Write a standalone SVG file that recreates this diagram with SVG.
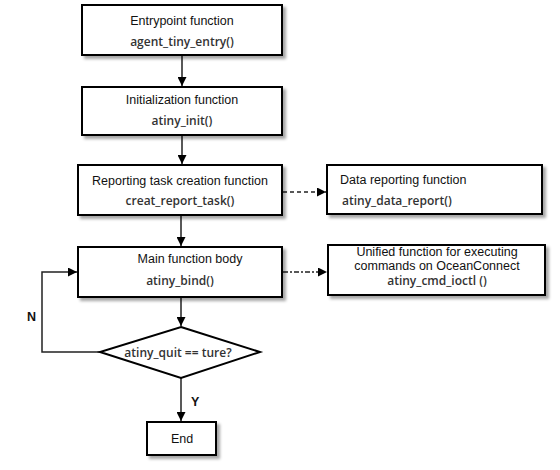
<svg xmlns="http://www.w3.org/2000/svg" width="560" height="470" viewBox="0 0 560 470">
<defs>
<filter id="sh" x="-10%" y="-10%" width="130%" height="140%">
<feDropShadow dx="3" dy="3" stdDeviation="1.5" flood-color="#000" flood-opacity="0.35"/>
</filter>
<marker id="ah" viewBox="0 0 10 10" refX="10" refY="5" markerWidth="9" markerHeight="9" markerUnits="userSpaceOnUse" orient="auto">
<path d="M0,0 L10,5 L0,10 z" fill="#000"/>
</marker>
</defs>
<style>
.box{fill:#fff;stroke:#000;stroke-width:2;filter:url(#sh)}
.t1{font-family:"Liberation Sans",Arial,sans-serif;font-size:12.5px;fill:#111}
.t2{font-family:"Open Sans","Liberation Sans",sans-serif;font-size:12px;font-weight:600;fill:#333}
.ln{fill:none;stroke:#222;stroke-width:1.5}
.c{text-anchor:middle}
</style>
<rect width="560" height="470" fill="#fff"/>
<g id="connectors">
<line class="ln" x1="182" y1="55" x2="182" y2="86" marker-end="url(#ah)"/>
<line class="ln" x1="182" y1="135" x2="182" y2="164" marker-end="url(#ah)"/>
<line class="ln" x1="181" y1="215" x2="181" y2="246" marker-end="url(#ah)"/>
<line class="ln" x1="181" y1="297" x2="181" y2="326" marker-end="url(#ah)"/>
<line class="ln" x1="181" y1="378" x2="181" y2="421" marker-end="url(#ah)"/>
<line class="ln" x1="283" y1="192" x2="326" y2="192" stroke-dasharray="4,3" marker-end="url(#ah)"/>
<line class="ln" x1="283" y1="272" x2="327" y2="272" stroke-dasharray="5,2,2,2" marker-end="url(#ah)"/>
<polyline class="ln" points="100,352 42,352 42,272 77,272" marker-end="url(#ah)"/>
<text class="t1" x="27" y="321" font-weight="bold" font-size="12">N</text>
<text class="t1" x="191" y="406" font-weight="bold" font-size="12">Y</text>
</g>
<g id="entry">
<rect class="box" x="82" y="5" width="200" height="50"/>
<text class="t1 c" x="182" y="25">Entrypoint function</text>
<text class="t2 c" x="182" y="46">agent_tiny_entry()</text>
</g>
<g id="init">
<rect class="box" x="82" y="87" width="200" height="48"/>
<text class="t1 c" x="182" y="104">Initialization function</text>
<text class="t2 c" x="182" y="125">atiny_init()</text>
</g>
<g id="report_task">
<rect class="box" x="78" y="165" width="204" height="50"/>
<text class="t1 c" x="180" y="185">Reporting task creation function</text>
<text class="t2 c" x="180" y="205">creat_report_task()</text>
</g>
<g id="main_body">
<rect class="box" x="78" y="247" width="204" height="50"/>
<text class="t1 c" x="190" y="263">Main function body</text>
<text class="t2 c" x="180" y="285">atiny_bind()</text>
</g>
<g id="data_report">
<rect class="box" x="327" y="165" width="215" height="49"/>
<text class="t1" x="340" y="184">Data reporting function</text>
<text class="t2" x="342" y="205">atiny_data_report()</text>
</g>
<g id="cmd_ioctl">
<rect class="box" x="328" y="245" width="217" height="50"/>
<text class="t1 c" x="437" y="256" font-size="12">Unified function for executing</text>
<text class="t1 c" x="437" y="270" font-size="12">commands on OceanConnect</text>
<text class="t2 c" x="437" y="285" font-size="11">atiny_cmd_ioctl ()</text>
</g>
<g id="quit_check">
<polygon points="181,327 260,352 181,378 100,352" fill="#fff" stroke="#000" stroke-width="2"/>
<text class="t2 c" x="178" y="357">atiny_quit == ture?</text>
</g>
<g id="end">
<rect class="box" x="147" y="422" width="69" height="33"/>
<text class="t1 c" x="182" y="443">End</text>
</g>
</svg>
